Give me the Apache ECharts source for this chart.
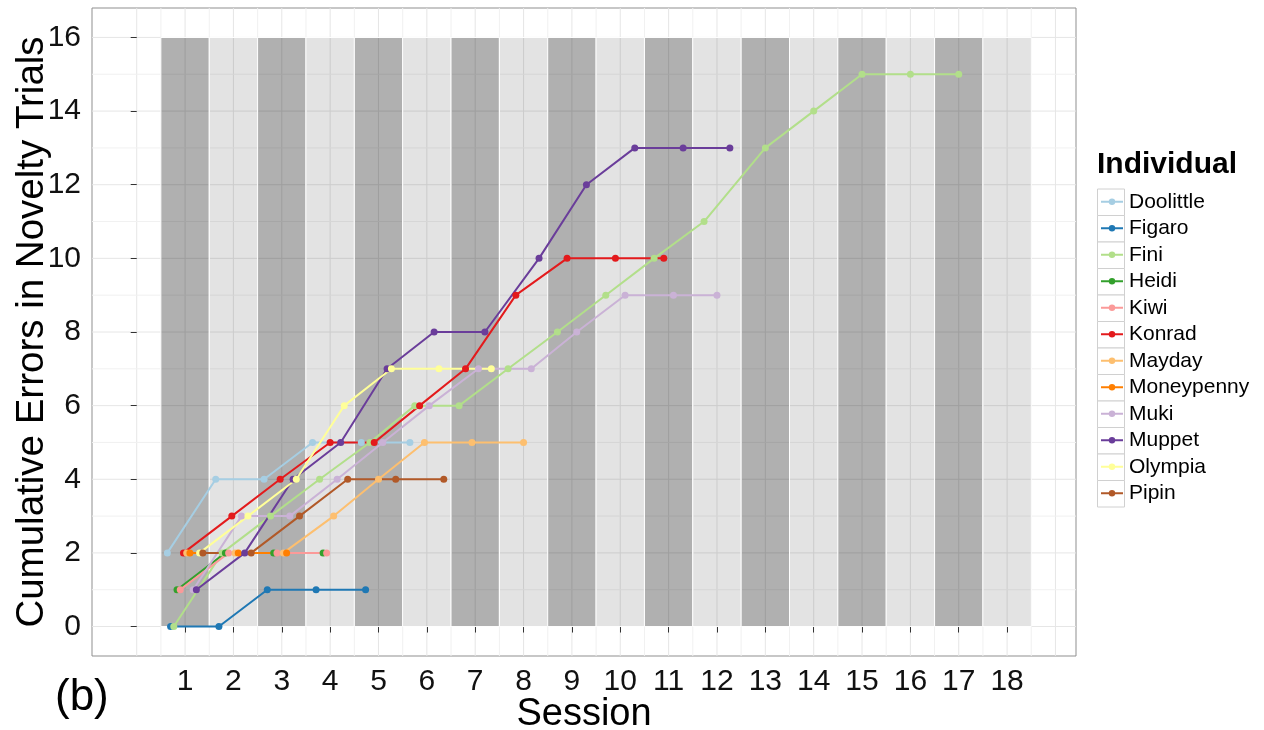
<!DOCTYPE html>
<html>
<head>
<meta charset="utf-8">
<script src="https://cdn.jsdelivr.net/npm/echarts@6/dist/echarts.min.js"></script>
<style>
  html, body { margin: 0; padding: 0; background: #fff; }
  #chart { width: 1264px; height: 730px; }
</style>
</head>
<body>
<div id="chart"></div>
<script>
// data
const sessions = [1, 2, 3, 4, 5, 6, 7, 8, 9, 10, 11, 12, 13, 14, 15, 16, 17, 18]
const yTicks = [0, 2, 4, 6, 8, 10, 12, 14, 16]
const individuals = ['Doolittle', 'Figaro', 'Fini', 'Heidi', 'Kiwi', 'Konrad',
  'Mayday', 'Moneypenny', 'Muki', 'Muppet', 'Olympia', 'Pipin']
const colors = ['#A6CEE3', '#1F78B4', '#B2DF8A', '#33A02C', '#FB9A99', '#E31A1C',
  '#FDBF6F', '#FF7F00', '#CAB2D6', '#6A3D9A', '#FFFF99', '#B15928']

// cumulative errors, one value per session starting at session 1
const doolittle = [2, 4, 4, 5, 5, 5]
const figaro = [0, 0, 1, 1, 1]
const fini = [0, 2, 3, 4, 5, 6, 6, 7, 8, 9, 10, 11, 13, 14, 15, 15, 15]
const heidi = [1, 2, 2, 2]
const kiwi = [1, 2, 2, 2]
const konrad = [2, 3, 4, 5, 5, 6, 7, 9, 10, 10, 10]
const mayday = [2, 2, 2, 3, 4, 5, 5, 5]
const moneypenny = [2, 2, 2]
const muki = [1, 3, 3, 4, 5, 6, 7, 7, 8, 9, 9, 9]
const muppet = [1, 2, 4, 5, 7, 8, 8, 10, 12, 13, 13, 13]
const olympia = [2, 3, 4, 6, 7, 7, 7]
const pipin = [2, 2, 3, 4, 4, 4]

const errors = [doolittle, figaro, fini, heidi, kiwi, konrad,
  mayday, moneypenny, muki, muppet, olympia, pipin]

const bandTop = 16
const dodgeWidth = 0.8
const font = 'Liberation Sans, Arial, sans-serif'

// dodge like ggplot: spread the individuals present at each session
const dodge = (idx, s) => {
  const present = errors.map((e, i) => (e.length >= s ? i : -1)).filter(i => i >= 0)
  const n = present.length
  const j = present.indexOf(idx)
  return s + (j - (n - 1) / 2) * dodgeWidth / n
}

const chart = echarts.init(document.getElementById('chart'), null, { renderer: 'canvas' })

const gridSeries = {
  type: 'custom',
  silent: true,
  data: [[0, 0]],
  z: 0,
  renderItem: (params, api) => {
    const children = []
    for (let x = 0; x <= 19; x += 0.5) {
      const a = api.coord([x, -0.8])
      const b = api.coord([x, 16.8])
      children.push({
        type: 'line',
        shape: { x1: a[0], y1: a[1], x2: b[0], y2: b[1] },
        style: { stroke: x % 1 === 0 ? '#E6E6E6' : '#F1F1F1', lineWidth: 1 },
      })
    }
    for (let y = 0; y <= 16; y += 1) {
      const a = api.coord([-0.925, y])
      const b = api.coord([19.425, y])
      children.push({
        type: 'line',
        shape: { x1: a[0], y1: a[1], x2: b[0], y2: b[1] },
        style: { stroke: y % 2 === 0 ? '#E6E6E6' : '#F1F1F1', lineWidth: 1 },
      })
    }
    return { type: 'group', children }
  },
}

const bandSeries = {
  type: 'custom',
  silent: true,
  data: sessions.map(s => [s, bandTop]),
  z: 1,
  renderItem: (params, api) => {
    const s = api.value(0)
    const p0 = api.coord([s - 0.5, api.value(1)])
    const p1 = api.coord([s + 0.5, 0])
    return {
      type: 'rect',
      shape: { x: p0[0], y: p0[1], width: p1[0] - p0[0], height: p1[1] - p0[1] },
      style: {
        fill: s % 2 === 1 ? 'rgba(0,0,0,0.31)' : 'rgba(0,0,0,0.11)',
        stroke: '#fff',
        lineWidth: 1,
      },
    }
  },
}

const lineSeries = individuals.map((name, i) => ({
  name,
  type: 'line',
  z: 3,
  symbol: 'circle',
  symbolSize: 7,
  showSymbol: true,
  color: colors[i],
  lineStyle: { width: 2, color: colors[i] },
  itemStyle: { color: colors[i] },
  emphasis: { disabled: true },
  data: errors[i].map((v, k) => [dodge(i, k + 1), v]),
}))

// legend key boxes
const keyBoxes = individuals.map((name, i) => ({
  type: 'rect',
  left: 1097,
  top: 188.5 + i * 26.5,
  shape: { width: 27, height: 26.5 },
  style: { fill: '#fff', stroke: '#D0D0D0', lineWidth: 1 },
  z: 0,
}))

chart.setOption({
  animation: false,
  textStyle: { fontFamily: font },
  title: {
    text: 'Individual',
    left: 1097,
    top: 150,
    padding: 0,
    textStyle: { fontFamily: font, fontSize: 30, fontWeight: 'bold', color: '#000' },
  },
  legend: {
    data: individuals,
    orient: 'vertical',
    left: 1100,
    top: 188.5,
    padding: 0,
    itemGap: 0,
    itemWidth: 22,
    itemHeight: 8,
    selectedMode: false,
    textStyle: { fontFamily: font, fontSize: 21, color: '#000', lineHeight: 26.5, padding: [0, 0, 0, 1] },
  },
  graphic: [
    ...keyBoxes,
    {
      type: 'text',
      left: 55,
      top: 676,
      style: { text: '(b)', font: '44px ' + font, fill: '#000' },
    },
  ],
  grid: {
    left: 92,
    top: 8,
    width: 984,
    height: 648,
    outerBoundsMode: 'none',
    containLabel: false,
    show: true,
    backgroundColor: '#fff',
    borderColor: '#8F8F8F',
    borderWidth: 1,
  },
  xAxis: {
    type: 'value',
    min: -0.925,
    max: 19.425,
    name: 'Session',
    nameLocation: 'middle',
    nameGap: 40,
    nameMoveOverlap: false,
    nameTextStyle: { fontFamily: font, fontSize: 38, color: '#000' },
    axisLine: { show: false },
    axisTick: { show: true, length: 6, customValues: sessions, lineStyle: { color: '#333' } },
    axisLabel: { customValues: sessions, fontSize: 30, color: '#111', margin: 11, fontFamily: font },
    splitLine: { show: false },
  },
  yAxis: {
    type: 'value',
    min: -0.8,
    max: 16.8,
    name: 'Cumulative Errors in Novelty Trials',
    nameLocation: 'middle',
    nameRotate: 90,
    nameGap: 40,
    nameMoveOverlap: false,
    nameTextStyle: { fontFamily: font, fontSize: 38.5, color: '#000' },
    axisLine: { show: false },
    axisTick: { show: true, length: 6, customValues: yTicks, lineStyle: { color: '#333' } },
    axisLabel: { customValues: yTicks, fontSize: 30, color: '#111', margin: 11, fontFamily: font },
    splitLine: { show: false },
  },
  series: [gridSeries, bandSeries, ...lineSeries],
})
</script>
</body>
</html>
